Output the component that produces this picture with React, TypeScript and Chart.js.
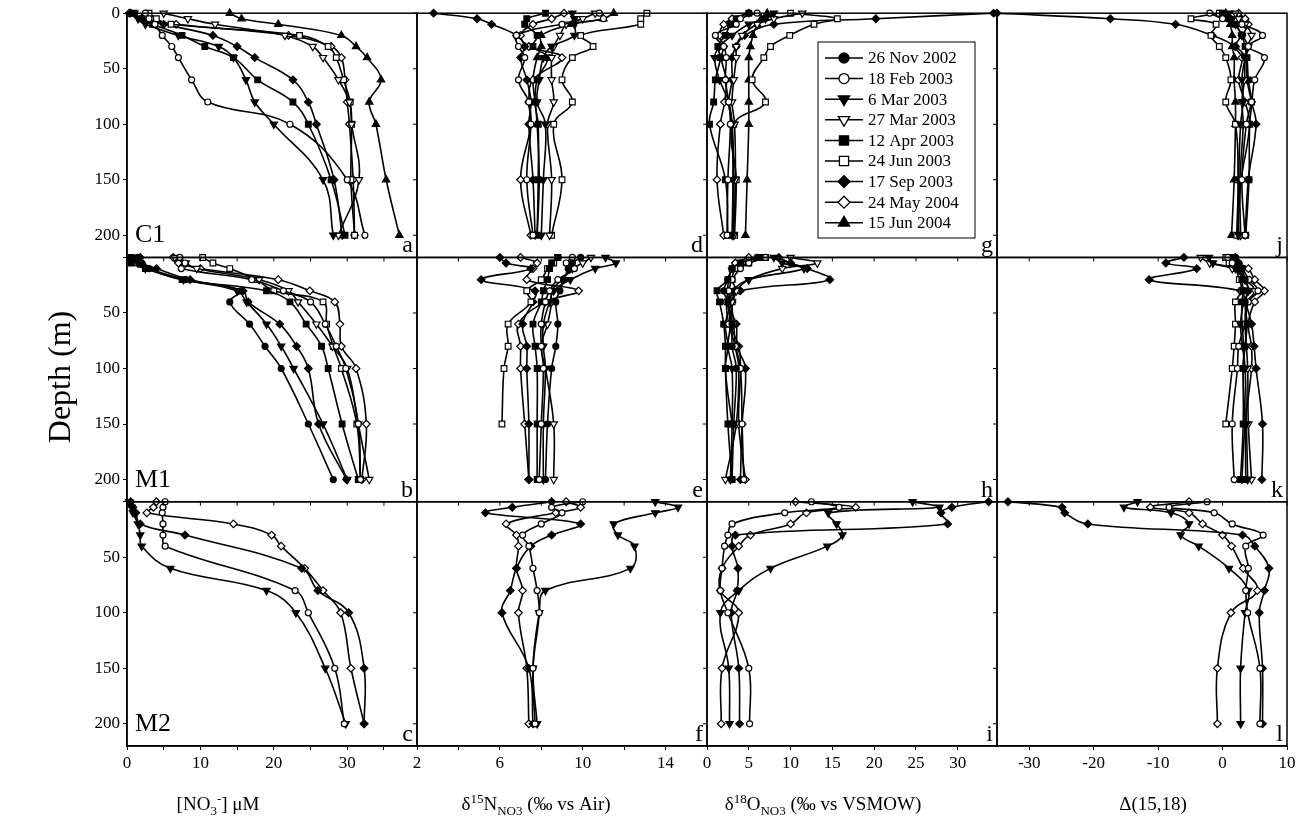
import React, { useEffect, useRef } from 'react';
import { Chart, registerables } from 'chart.js';
import { drawPoint } from 'chart.js/helpers';

Chart.register(...registerables);

const W = 1301;
const H = 827;
const FONT = "'Liberation Serif', 'Times New Roman', serif";

// ---------------- data ----------------
const DATES = ['26 Nov 2002', '18 Feb 2003', '6 Mar 2003', '27 Mar 2003', '12 Apr 2003', '24 Jun 2003', '17 Sep 2003', '24 May 2004', '15 Jun 2004'];
const DEPTHS = [0, 5, 10, 20, 30, 40, 60, 80, 100, 150, 200];
const STATIONS = ['C1', 'M1', 'M2'];
const PANEL_LETTERS = ['a', 'b', 'c', 'd', 'e', 'f', 'g', 'h', 'i', 'j', 'k', 'l'];

const Y_TICKS = [0, 50, 100, 150, 200];
const X_TICKS_NO3 = [0, 5, 10, 15, 20, 25, 30, 35];
const X_LABELS_NO3 = [0, 10, 20, 30];
const X_TICKS_D15N = [2, 4, 6, 8, 10, 12, 14, 16];
const X_LABELS_D15N = [2, 6, 10, 14];
const X_TICKS_D18O = [0, 5, 10, 15, 20, 25, 30];
const X_LABELS_D18O = [0, 5, 10, 15, 20, 25, 30];
const X_TICKS_D1518 = [-30, -20, -10, 0, 10];
const X_LABELS_D1518 = [-30, -20, -10, 0, 10];

// series (index into DATES) present at each station
const C1_SERIES = [1, 2, 3, 4, 5, 6, 7, 8];
const M1_SERIES = [0, 1, 2, 3, 4, 5, 6, 7];
const M2_SERIES = [1, 2, 6, 7];

// C1
const C1_NO3 = [
  [2.5, 3.0, 3.8, 4.8, 6.1, 7.0, 8.8, 11.0, 22.2, 30.0, 32.4],
  [1.0, 1.5, 2.5, 7.0, 12.5, 14.5, 16.2, 17.4, 20.0, 26.7, 28.1],
  [5.0, 8.3, 12.0, 21.5, 25.3, 26.7, 28.8, 30.3, 30.6, 31.6, 28.8],
  [1.0, 2.0, 3.5, 7.5, 10.6, 14.5, 17.8, 22.6, 24.7, 27.8, 29.7],
  [3.0, 4.0, 6.0, 23.5, 27.4, 28.5, 29.5, 30.4, 30.6, 30.5, 31.0],
  [0.5, 2.0, 5.0, 11.7, 15.0, 17.4, 22.6, 24.7, 25.8, 28.2, 29.3],
  [0.3, 2.0, 6.7, 22.0, 27.8, 29.2, 29.7, 30.0, 30.3, 30.8, 31.0],
  [14.0, 15.6, 20.6, 29.2, 31.2, 32.7, 34.6, 33.0, 33.9, 35.3, 37.1],
];
const C1_D15N = [
  [10.8, 11.0, 9.0, 6.8, 6.9, 7.2, 6.9, 7.4, 7.5, 7.3, 7.6],
  [9.5, 9.6, 9.6, 9.6, 8.5, 8.1, 7.9, 7.8, 8.2, 8.1, 8.0],
  [10.6, 10.0, 9.2, 8.9, 8.6, 8.5, 8.5, 8.6, 8.3, 8.5, 8.4],
  [8.2, 7.3, 7.2, 7.8, 7.6, 8.3, 7.8, 7.7, 7.85, 7.85, 7.8],
  [13.1, 12.8, 12.8, 9.9, 10.5, 9.5, 9.0, 9.5, 8.6, 9.0, 8.5],
  [2.8, 4.9, 5.6, 6.8, 7.2, 7.0, 7.3, 7.5, 7.4, 7.6, 7.7],
  [9.1, 8.5, 7.6, 7.0, 7.4, 9.0, 7.6, 7.4, 7.5, 7.0, 7.5],
  [11.5, 11.0, 9.5, 8.0, 8.0, 7.8, 7.6, 7.7, 7.8, 7.9, 7.8],
];
const C1_D18O = [
  [6.0, 4.0, 3.5, 1.0, 2.0, 2.3, 2.2, 2.6, 2.8, 2.5, 2.4],
  [8.0, 7.0, 5.0, 3.0, 1.5, 0.9, 1.5, 2.6, 3.0, 3.1, 3.0],
  [11.4, 8.0, 6.0, 4.2, 3.5, 3.5, 3.2, 3.0, 3.3, 3.4, 3.2],
  [5.0, 3.5, 2.8, 2.2, 1.3, 1.6, 1.0, 0.8, 0.3, 2.2, 2.5],
  [10.0, 15.6, 12.8, 9.9, 7.6, 6.8, 5.4, 7.0, 3.2, 3.5, 3.3],
  [34.3, 20.2, 8.0, 4.5, 3.5, 3.0, 3.0, 2.6, 3.0, 3.2, 3.2],
  [5.0, 3.0, 2.0, 1.5, 2.0, 1.7, 2.3, 2.1, 1.6, 1.2, 2.0],
  [7.2, 6.5, 6.0, 5.5, 5.2, 5.0, 5.0, 5.0, 5.0, 4.8, 4.6],
];
const C1_D1518 = [
  [-2.0, 0.0, 3.0, 6.2, 4.0, 6.5, 5.0, 4.5, 3.7, 3.0, 3.5],
  [1.0, 1.5, 2.0, 3.0, 4.0, 3.5, 3.0, 3.2, 2.8, 2.5, 2.5],
  [2.0, 2.5, 3.5, 4.5, 3.8, 3.5, 3.4, 3.0, 3.2, 2.7, 2.8],
  [0.0, 1.0, 2.0, 3.0, 3.5, 3.8, 4.0, 4.5, 4.2, 4.1, 3.6],
  [-0.5, -4.9, -1.0, -1.8, -0.5, 0.5, 1.3, 0.5, 2.0, 2.4, 2.2],
  [-35.0, -17.4, -7.3, -1.6, 2.0, 3.5, 3.8, 4.5, 5.2, 4.0, 3.5],
  [2.5, 3.5, 4.0, 3.0, 2.0, 3.0, 2.5, 3.5, 4.2, 2.9, 2.3],
  [0.5, 1.0, 1.2, 1.5, 1.5, 1.8, 1.8, 2.0, 2.0, 1.8, 1.4],
];

// M1
const M1_NO3 = [
  [1.5, 2.0, 3.0, 8.0, 15.5, 14.0, 16.7, 18.8, 21.0, 24.7, 28.1],
  [7.2, 7.9, 7.4, 17.0, 21.3, 25.0, 27.0, 28.5, 29.8, 31.5, 31.8],
  [1.0, 1.5, 2.5, 7.7, 15.0, 16.3, 19.0, 21.0, 22.7, 26.7, 30.0],
  [6.5, 8.0, 9.5, 18.0, 22.0, 23.3, 25.8, 28.0, 30.0, 31.5, 33.0],
  [0.6, 0.6, 2.5, 7.5, 19.0, 22.2, 24.4, 26.5, 27.4, 29.3, 31.5],
  [10.3, 11.7, 14.0, 17.6, 20.0, 26.7, 27.2, 28.1, 29.2, 31.3, 31.8],
  [1.8, 2.0, 4.0, 8.6, 15.8, 16.5, 20.8, 23.1, 24.7, 26.1, 29.9],
  [6.3, 7.0, 10.0, 20.6, 24.9, 28.3, 29.0, 29.2, 31.2, 32.6, 32.0],
];
const M1_D15N = [
  [9.9, 9.5, 9.3, 9.1, 8.9, 8.7, 8.8, 8.7, 8.5, 8.3, 8.2],
  [9.5, 9.2, 9.6, 8.8, 8.4, 8.2, 8.0, 8.0, 8.1, 8.0, 7.9],
  [11.1, 11.6, 10.6, 9.4, 8.6, 8.4, 8.1, 8.1, 8.2, 8.1, 8.1],
  [10.4, 10.0, 9.5, 9.0, 8.5, 8.5, 8.3, 8.0, 8.2, 8.6, 8.6],
  [8.8, 8.5, 8.4, 8.3, 8.1, 8.0, 7.6, 7.7, 7.8, 7.8, 7.8],
  [8.8, 8.6, 8.3, 8.0, 7.3, 7.5, 6.4, 6.4, 6.2, 6.1, null],
  [6.0, 6.3, 7.5, 5.1, 7.7, 7.6, 7.1, 7.3, 7.3, 7.4, 7.4],
  [7.0, 7.8, 7.6, 7.3, 9.8, 8.2, 6.9, 7.0, 7.0, 7.2, 7.4],
];
const M1_D18O = [
  [6.0, 4.0, 3.0, 2.5, 2.0, 2.5, 3.0, 3.0, 3.5, 3.2, 3.0],
  [7.0, 5.0, 4.0, 3.0, 2.6, 2.3, 2.6, 3.4, 4.0, 4.2, 4.4],
  [8.0, 9.0, 11.6, 5.0, 3.0, 2.5, 2.8, 2.5, 3.0, 3.0, 2.8],
  [10.0, 13.2, 9.0, 5.0, 3.5, 3.0, 3.2, 3.4, 3.8, 3.5, 2.2],
  [6.4, 4.0, 3.0, 2.5, 1.2, 1.5, 2.0, 2.2, 2.2, 2.5, 3.0],
  [7.0, 5.0, 3.5, 3.0, 3.5, 3.0, 2.2, 2.5, 2.2, 3.0, null],
  [8.6, 10.0, 12.0, 14.7, 4.0, 2.5, 3.5, 3.6, 4.6, 4.2, 4.0],
  [5.0, 3.4, 3.0, 2.6, 2.5, 3.0, 2.8, 3.8, 4.0, 3.8, 4.6],
];
const M1_D1518 = [
  [2.0, 2.5, 3.0, 3.5, 4.0, 3.5, 3.8, 3.5, 3.2, 3.5, 3.6],
  [0.8, 1.5, 3.0, 4.1, 5.5, 4.0, 3.5, 2.5, 2.3, 1.5, 1.8],
  [-2.1, -1.5, 2.0, 3.5, 4.0, 3.3, 2.8, 3.1, 3.5, 3.7, 3.9],
  [-3.4, -2.0, 1.5, 3.5, 5.0, 3.8, 3.5, 3.7, 3.9, 4.0, 4.5],
  [1.5, 2.0, 3.0, 3.0, 3.2, 3.0, 3.0, 3.3, 3.2, 3.2, 2.8],
  [0.5, 1.0, 2.0, 2.6, 3.0, 2.0, 2.0, 1.8, 1.5, 0.5, null],
  [-6.0, -8.8, -4.0, -11.4, 2.8, 3.5, 4.5, 4.9, 5.2, 6.2, 6.1],
  [2.0, 2.5, 4.0, 5.0, 6.5, 5.0, 4.0, 4.5, 4.5, 3.5, 3.0],
];

// M2
const M2_NO3 = [
  [5.2, 4.9, 4.8, 4.9, 4.9, 5.2, null, 22.9, 24.7, 28.3, 29.6],
  [0.3, 0.6, 0.8, 1.5, 1.8, 2.0, 5.9, 19.0, 23.0, 27.0, 29.8],
  [0.5, 0.8, 1.2, 1.8, 7.9, null, 23.8, 26.0, 30.2, 32.3, 32.3],
  [4.0, 3.6, 2.7, 14.5, 19.7, 21.0, 24.2, 26.7, 29.1, 30.5, 32.3],
];
const M2_D15N = [
  [10.0, 8.5, 9.0, 8.0, 7.1, 7.4, 7.6, 7.8, 7.9, 7.6, 7.7],
  [13.5, 14.6, 13.5, 11.5, 11.7, 12.5, 12.3, 8.2, 7.9, 7.6, 7.8],
  [8.5, 6.6, 5.3, 9.9, 8.5, 7.5, 6.8, 6.5, 6.1, 7.4, 7.6],
  [9.2, 9.9, 8.7, 6.3, 6.8, 6.9, 6.8, 7.1, 6.9, 7.3, 7.4],
];
const M2_D18O = [
  [12.5, 15.8, 9.3, 3.0, 2.5, 2.1, 1.8, 1.6, 2.5, 5.0, 5.1],
  [24.6, 27.8, 14.5, 15.5, 16.2, 14.4, 7.6, 3.8, 1.6, 2.6, 2.7],
  [33.7, 29.3, 28.0, 28.8, 3.4, 3.0, 3.7, 3.6, 2.9, 3.8, 3.9],
  [10.6, 17.8, 11.9, 10.0, 5.2, 3.8, 1.8, 1.6, 3.8, 1.8, 1.7],
];
const M2_D1518 = [
  [-2.4, -8.3, -1.3, 1.5, 6.3, 3.6, 4.0, 3.6, 3.9, 5.8, 5.8],
  [-13.2, -15.3, -8.0, -5.2, -6.5, -3.7, 1.0, 4.0, 3.5, 2.8, 2.8],
  [-33.3, -24.9, -24.5, -20.9, 3.1, 5.0, 7.2, 6.5, 5.7, 6.2, 6.2],
  [-5.2, -11.2, -5.2, -3.1, 0.0, 1.4, 3.2, 5.4, 1.3, -0.8, -0.8],
];

// ---------------- styles ----------------
type Mk = { pointStyle: string; rotation: number; filled: boolean; r: number; lr: number };
const MARKERS: Mk[] = [
  { pointStyle: 'circle', rotation: 0, filled: true, r: 3, lr: 5 },
  { pointStyle: 'circle', rotation: 0, filled: false, r: 3, lr: 5 },
  { pointStyle: 'triangle', rotation: 180, filled: true, r: 4.2, lr: 6.5 },
  { pointStyle: 'triangle', rotation: 180, filled: false, r: 4.2, lr: 6.5 },
  { pointStyle: 'rect', rotation: 0, filled: true, r: 4, lr: 6.5 },
  { pointStyle: 'rect', rotation: 0, filled: false, r: 4, lr: 6.5 },
  { pointStyle: 'rectRot', rotation: 0, filled: true, r: 3.8, lr: 6 },
  { pointStyle: 'rectRot', rotation: 0, filled: false, r: 3.8, lr: 6 },
  { pointStyle: 'triangle', rotation: 0, filled: true, r: 4.2, lr: 6.5 },
];

const STATION_SERIES = [C1_SERIES, M1_SERIES, M2_SERIES];
const STATION_VARS = [
  [C1_NO3, C1_D15N, C1_D18O, C1_D1518],
  [M1_NO3, M1_D15N, M1_D18O, M1_D1518],
  [M2_NO3, M2_D15N, M2_D18O, M2_D1518],
];

const COLS = [
  { min: 0, max: 39.5, ticks: X_TICKS_NO3, labels: X_LABELS_NO3 },
  { min: 2, max: 16, ticks: X_TICKS_D15N, labels: X_LABELS_D15N },
  { min: 0, max: 34.7, ticks: X_TICKS_D18O, labels: X_LABELS_D18O },
  { min: -35, max: 10, ticks: X_TICKS_D1518, labels: X_LABELS_D1518 },
];

type Seg = { t: string; s?: 'sup' | 'sub' };
const TITLES: { segs: Seg[]; cx: number }[] = [
  { segs: [{ t: '[NO' }, { t: '3', s: 'sub' }, { t: '-', s: 'sup' }, { t: '] μM' }], cx: 218 },
  { segs: [{ t: 'δ' }, { t: '15', s: 'sup' }, { t: 'N' }, { t: 'NO3', s: 'sub' }, { t: ' (‰ vs Air)' }], cx: 536 },
  { segs: [{ t: 'δ' }, { t: '18', s: 'sup' }, { t: 'O' }, { t: 'NO3', s: 'sub' }, { t: ' (‰ vs VSMOW)' }], cx: 823 },
  { segs: [{ t: 'Δ(15,18)' }], cx: 1153 },
];

function drawRich(ctx: CanvasRenderingContext2D, segs: Seg[], cx: number, y: number, size: number) {
  const small = Math.round(size * 0.66);
  let total = 0;
  const widths = segs.map((sg) => {
    ctx.font = `${sg.s ? small : size}px ${FONT}`;
    const w = ctx.measureText(sg.t).width;
    total += w;
    return w;
  });
  let x = cx - total / 2;
  ctx.textAlign = 'left';
  ctx.textBaseline = 'alphabetic';
  segs.forEach((sg, i) => {
    ctx.font = `${sg.s ? small : size}px ${FONT}`;
    const dy = sg.s === 'sup' ? -size * 0.38 : sg.s === 'sub' ? size * 0.25 : 0;
    ctx.fillText(sg.t, x, y + dy);
    x += widths[i];
  });
}

const decorPlugin = {
  id: 'decor',
  afterDraw(chart: any) {
    const ctx: CanvasRenderingContext2D = chart.ctx;
    ctx.save();
    ctx.strokeStyle = '#000';
    ctx.fillStyle = '#000';
    // panel frames and inner ticks
    for (let r = 0; r < 3; r++) {
      const ys = chart.scales['y' + r];
      for (let c = 0; c < 4; c++) {
        const xs = chart.scales['x' + c];
        ctx.lineWidth = 1.5;
        ctx.strokeRect(xs.left, ys.top, xs.right - xs.left, ys.bottom - ys.top);
        ctx.lineWidth = 1;
        if (c > 0) {
          Y_TICKS.forEach((v) => {
            const py = ys.getPixelForValue(v);
            ctx.beginPath();
            ctx.moveTo(xs.left - 4, py);
            ctx.lineTo(xs.left, py);
            ctx.stroke();
          });
        }
        if (r < 2) {
          COLS[c].ticks.forEach((v) => {
            const px = xs.getPixelForValue(v);
            ctx.beginPath();
            ctx.moveTo(px, ys.bottom);
            ctx.lineTo(px, ys.bottom + 4);
            ctx.stroke();
          });
        }
        // panel letter
        ctx.font = `24px ${FONT}`;
        ctx.textAlign = 'right';
        ctx.textBaseline = 'alphabetic';
        ctx.fillText(PANEL_LETTERS[c * 3 + r], xs.right - 4, ys.bottom - 5);
        if (c === 0) {
          ctx.font = `26px ${FONT}`;
          ctx.textAlign = 'left';
          ctx.fillText(STATIONS[r], xs.left + 8, ys.bottom - 15);
        }
      }
    }
    // legend
    const lx = 818, ly = 42, lw = 157, lh = 196;
    ctx.fillStyle = '#fff';
    ctx.fillRect(lx, ly, lw, lh);
    ctx.lineWidth = 1;
    ctx.strokeStyle = '#000';
    ctx.strokeRect(lx, ly, lw, lh);
    DATES.forEach((d, i) => {
      const y = 58 + i * 20.6;
      const m = MARKERS[i];
      ctx.lineWidth = 1.5;
      ctx.strokeStyle = '#000';
      ctx.beginPath();
      ctx.moveTo(825, y);
      ctx.lineTo(863, y);
      ctx.stroke();
      ctx.fillStyle = m.filled ? '#000' : '#fff';
      ctx.lineWidth = 1.3;
      drawPoint(ctx, { pointStyle: m.pointStyle as any, rotation: m.rotation, radius: m.lr, borderWidth: 1.3 }, 844, y);
      ctx.fillStyle = '#000';
      ctx.font = `17px ${FONT}`;
      ctx.textAlign = 'left';
      ctx.textBaseline = 'middle';
      ctx.fillText(d, 868, y + 1);
    });
    // axis titles
    ctx.fillStyle = '#000';
    TITLES.forEach((t) => drawRich(ctx, t.segs, t.cx, 810, 19));
    ctx.save();
    ctx.translate(62, 377);
    ctx.rotate(-Math.PI / 2);
    ctx.font = `32px ${FONT}`;
    ctx.textAlign = 'center';
    ctx.textBaseline = 'middle';
    ctx.fillText('Depth (m)', 0, 0);
    ctx.restore();
    ctx.restore();
  },
};

function buildConfig(): any {
  const datasets: any[] = [];
  for (let r = 0; r < 3; r++) {
    const series = STATION_SERIES[r];
    for (let c = 0; c < 4; c++) {
      const table = STATION_VARS[r][c];
      series.forEach((di, k) => {
        const m = MARKERS[di];
        const data = DEPTHS.map((d, i) => ({ x: table[k][i], y: d })).filter((p) => p.x !== null && p.x !== undefined);
        datasets.push({
          label: `${STATIONS[r]} ${DATES[di]}`,
          data,
          xAxisID: 'x' + c,
          yAxisID: 'y' + r,
          borderColor: '#000',
          borderWidth: 1.6,
          tension: 0.4,
          fill: false,
          clip: false,
          pointStyle: m.pointStyle,
          rotation: m.rotation,
          pointRadius: m.r,
          pointBackgroundColor: m.filled ? '#000' : '#fff',
          pointBorderColor: '#000',
          pointBorderWidth: 1.2,
        });
      });
    }
  }

  const scales: any = {};
  for (let r = 0; r < 3; r++) {
    scales['y' + r] = {
      type: 'linear',
      position: 'left',
      stack: 'rows',
      weight: 3 - r,
      reverse: true,
      min: 0,
      max: 220,
      afterBuildTicks: (s: any) => {
        s.ticks = Y_TICKS.map((v) => ({ value: v }));
      },
      afterFit: (s: any) => {
        s.width = 127;
      },
      ticks: {
        color: '#000',
        font: { family: FONT, size: 17 },
        padding: 3,
        callback: (v: any) => (r > 0 && v === 0 ? '' : String(v)),
      },
      grid: { drawOnChartArea: false, drawTicks: true, tickLength: 4, color: '#000', lineWidth: 1 },
      border: { display: true, color: '#000', width: 1.5 },
    };
  }
  COLS.forEach((col, c) => {
    scales['x' + c] = {
      type: 'linear',
      position: 'bottom',
      stack: 'cols',
      min: col.min,
      max: col.max,
      afterBuildTicks: (s: any) => {
        s.ticks = col.ticks.map((v) => ({ value: v }));
      },
      afterFit: (s: any) => {
        s.height = 81;
      },
      ticks: {
        color: '#000',
        font: { family: FONT, size: 17 },
        padding: 3,
        maxRotation: 0,
        autoSkip: false,
        callback: (v: any) => (col.labels.includes(v) ? String(v) : ''),
      },
      grid: { drawOnChartArea: false, drawTicks: true, tickLength: 4, color: '#000', lineWidth: 1 },
      border: { display: true, color: '#000', width: 1.5 },
    };
  });

  return {
    type: 'line',
    data: { datasets },
    options: {
      responsive: false,
      devicePixelRatio: 1,
      animation: false,
      events: [],
      layout: { padding: { left: 0, right: 14, top: 13, bottom: 0 } },
      plugins: { legend: { display: false }, tooltip: { enabled: false }, title: { display: false } },
      scales,
    },
    plugins: [decorPlugin],
  };
}

export default function App() {
  const ref = useRef<HTMLCanvasElement>(null);
  useEffect(() => {
    if (!ref.current) return;
    const chart = new Chart(ref.current, buildConfig());
    return () => chart.destroy();
  }, []);
  return (
    <div style={{ position: 'absolute', left: 0, top: 0, width: W, height: H, background: '#fff' }}>
      <canvas ref={ref} width={W} height={H} style={{ display: 'block', width: W, height: H }} />
    </div>
  );
}
